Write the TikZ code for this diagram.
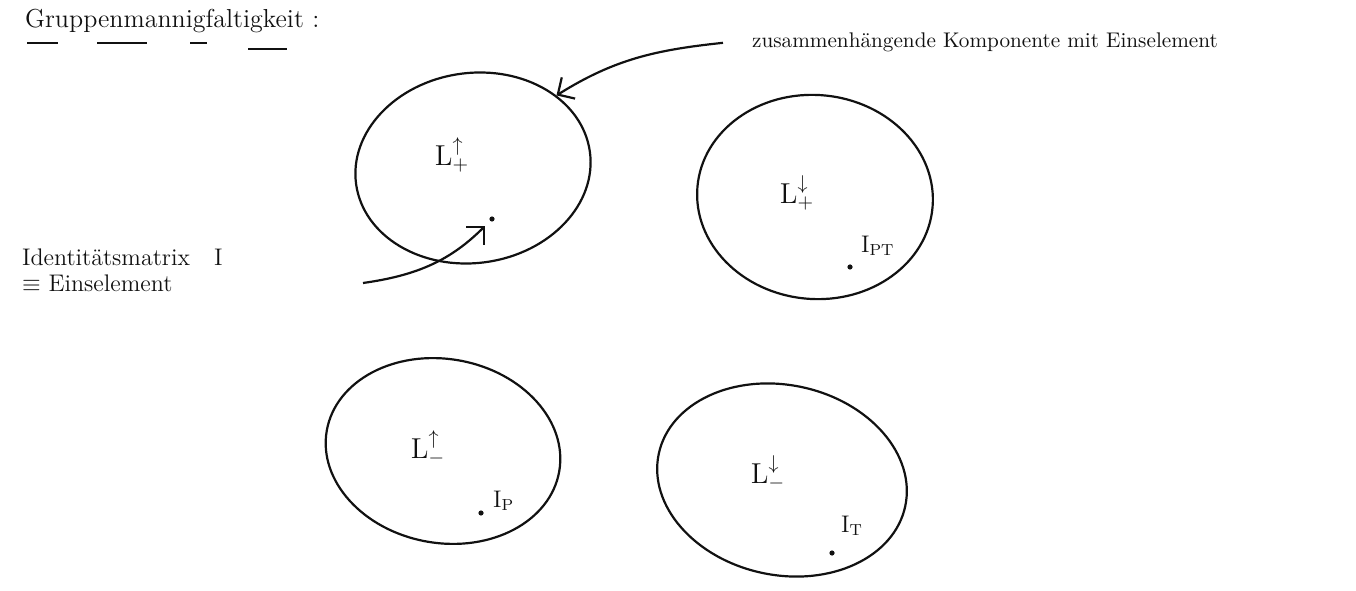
\documentclass[tikz,border=0pt]{standalone}
\usepackage{xcolor}
\usetikzlibrary{arrows.meta,positioning,shapes.geometric}
\definecolor{ink}{HTML}{111111}
\tikzset{
  every picture/.style={line width=1.1pt, draw=ink, text=ink},
  comp/.style={ellipse, draw=ink, inner sep=0pt},
  hand/.style={font=\fontsize{12}{13}\selectfont, inner sep=2pt},
  lab/.style={font=\fontsize{14}{16}\selectfont, inner sep=1pt},
  sub/.style={font=\fontsize{12}{14}\selectfont, inner sep=1pt},
  elem/.style={circle, fill=ink, inner sep=0pt, minimum size=2.6pt},
  flow/.style={-{Straight Barb[length=2.2mm]}, draw=ink},
}

\begin{document}
\begin{tikzpicture}[x=0.5pt, y=0.5pt]
\useasboundingbox (0,0) rectangle (1356,590);
% title with its underline strokes
\node[hand, font=\fontsize{13}{14}\selectfont, anchor=base west] (title) at (20,562) {Gruppenmannigfaltigkeit :};
\foreach \a/\b/\h in {27/58/547, 97/147/547, 190/207/547, 248/287/541}
  \draw[line width=0.6pt] (\a,\h) -- (\b,\h);

% the four components
\node[comp, rotate=8, minimum width=118pt, minimum height=95pt] (upplus) at (473,422) {};
\node[comp, rotate=-5, minimum width=118pt, minimum height=102pt] (downplus) at (815,393) {};
\node[comp, rotate=-10, minimum width=118pt, minimum height=92pt] (upminus) at (443,139) {};
\node[comp, rotate=-12, minimum width=126pt, minimum height=95pt] (downminus) at (782,110) {};

\node[lab] (upplusL) at (452,435) {$\mathrm{L}^{\uparrow}_{+}$};
\node[lab] (downplusL) at (797,397) {$\mathrm{L}^{\downarrow}_{+}$};
\node[lab] (upminusL) at (428,142) {$\mathrm{L}^{\uparrow}_{-}$};
\node[lab] (downminusL) at (768,117) {$\mathrm{L}^{\downarrow}_{-}$};

% group elements
\node[elem] (eye) at (492,371) {};
\node[elem] (ipt) at (850,323) {};
\node[elem] (ip) at (481,77) {};
\node[elem] (it) at (832,37) {};
\node[sub, above right=2.7pt and 2.7pt of ipt] (iptL) {$\mathrm{I}_{\mathrm{PT}}$};
\node[sub, above right=-1.8pt and 3.2pt of ip] (ipL) {$\mathrm{I}_{\mathrm{P}}$};
\node[sub, above right=5.7pt and 1.7pt of it] (itL) {$\mathrm{I}_{\mathrm{T}}$};

% notes
\node[hand, font=\fontsize{10.6}{12}\selectfont, anchor=base west] (zus) at (747,542) {zusammenhängende Komponente mit Einselement};
\coordinate[left=12pt of zus.west] (zusTail);
\draw[flow] (zusTail) to[out=186, in=32] (upplus.33);

\node[hand, anchor=north west, align=left] (ident) at (17,346) {Identitätsmatrix\quad I\\$\equiv$ Einselement};
\coordinate (eyeTail) at (363,307);
\draw[flow, shorten >=3pt] (eyeTail) to[out=8, in=225] (eye);
\end{tikzpicture}
\end{document}
